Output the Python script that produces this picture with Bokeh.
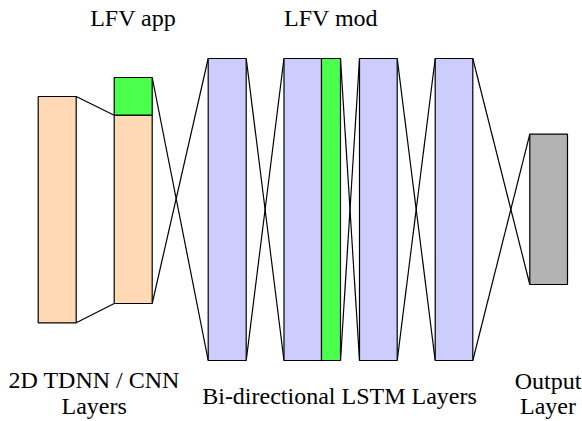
from bokeh.plotting import figure
from bokeh.models import Range1d
from bokeh.core.properties import value
from bokeh.embed import file_html
from bokeh.resources import INLINE

# ---- diagram data (reference pixel units) ----
layer_names = ["cnn1", "cnn2", "blstm1", "blstm2", "blstm3", "blstm4", "output"]
layer_left = [37.7, 113.7, 207.7, 283.5, 359.0, 434.7, 529.3]
layer_right = [75.7, 151.7, 245.7, 321.0, 396.7, 472.3, 567.0]
layer_top = [96.0, 114.7, 58.0, 58.0, 58.0, 58.0, 133.7]
layer_bottom = [322.3, 303.0, 360.0, 360.0, 360.0, 360.0, 284.0]
layer_colors = ["#FFD9B3", "#FFD9B3", "#CCCCFF", "#CCCCFF", "#CCCCFF", "#CCCCFF", "#B3B3B3"]

# LFV blocks
lfv_names = ["LFV app", "LFV mod"]
lfv_left = [113.7, 321.0]
lfv_right = [151.7, 340.0]
lfv_top = [77.0, 58.0]
lfv_bottom = [114.7, 360.0]
lfv_color = "#4DFF4D"

# connections: from right edge (x0, top, bottom) to left edge (x1, top, bottom)
conn_x0 = [75.7, 151.7, 245.7, 340.0, 396.7, 472.3]
conn_t0 = [96.0, 77.0, 58.0, 58.0, 58.0, 58.0]
conn_b0 = [322.3, 303.0, 360.0, 360.0, 360.0, 360.0]
conn_x1 = [113.7, 207.7, 283.5, 359.0, 434.7, 529.3]
conn_t1 = [114.7, 58.0, 58.0, 58.0, 58.0, 133.7]
conn_b1 = [303.0, 360.0, 360.0, 360.0, 360.0, 284.0]
conn_cross = [False, True, True, True, True, True]

# labels (baseline positions)
top_labels = ["LFV app", "LFV mod"]
top_label_x = [132.7, 330.5]
top_label_y = [26.9, 26.9]
bottom_labels = ["2D TDNN / CNN", "Layers", "Bi-directional LSTM Layers", "Output", "Layer"]
bottom_label_x = [93.7, 93.7, 339.0, 547.5, 547.5]
bottom_label_y = [388.5, 414.5, 404.2, 389.0, 414.5]
baseline_shift = 9.0  # svg backend draws alphabetic baseline lower than requested

p = figure(width=582, height=421, output_backend="svg", toolbar_location=None,
           x_range=Range1d(0, 582), y_range=Range1d(421, 0), min_border=0)
p.axis.visible = False
p.grid.visible = False
p.outline_line_color = None

font = value("Liberation Serif")
all_labels = top_labels + bottom_labels
all_x = top_label_x + bottom_label_x
all_y = [y - baseline_shift for y in top_label_y + bottom_label_y]
p.text(x=all_x, y=all_y, text=all_labels, text_font=font,
       text_font_size="24px", text_align="center", text_baseline="alphabetic",
       text_color="black")

# connection segments
sx0, sy0, sx1, sy1 = [], [], [], []
for x0, t0, b0, x1, t1, b1, c in zip(conn_x0, conn_t0, conn_b0, conn_x1, conn_t1, conn_b1, conn_cross):
    sx0 += [x0, x0]
    sy0 += [t0, b0]
    sx1 += [x1, x1]
    sy1 += ([b1, t1] if c else [t1, b1])
p.segment(x0=sx0, y0=sy0, x1=sx1, y1=sy1, line_color="black", line_width=1.2)

p.quad(left=layer_left, right=layer_right, top=layer_top, bottom=layer_bottom,
       fill_color=layer_colors, line_color="black", line_width=1.2)
p.quad(left=lfv_left, right=lfv_right, top=lfv_top, bottom=lfv_bottom,
       fill_color=lfv_color, line_color="black", line_width=1.2)

open("out.html", "w").write(file_html(p, INLINE))
